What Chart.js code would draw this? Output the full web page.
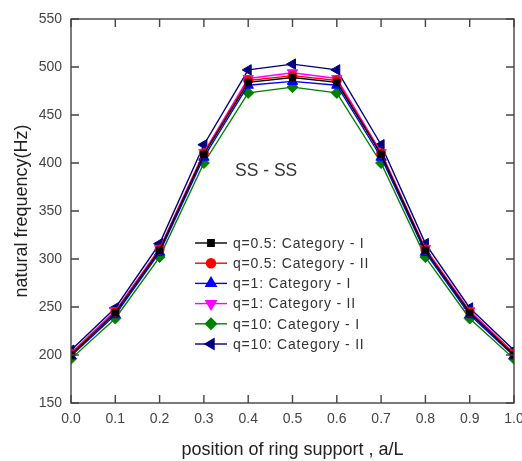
<!DOCTYPE html>
<html>
<head>
<meta charset="utf-8">
<script src="https://cdn.jsdelivr.net/npm/chart.js@4.4.1/dist/chart.umd.min.js"></script>
<style>
  html, body { margin: 0; padding: 0; background: #fff; }
  #wrap { width: 522px; height: 461px; }
</style>
</head>
<body>
<div id="wrap"><canvas id="freqChart" width="522" height="461"></canvas></div>
<script>
// position of ring support a/L
const positions = [0.0, 0.1, 0.2, 0.3, 0.4, 0.5, 0.6, 0.7, 0.8, 0.9, 1.0];

// natural frequency (Hz)
const q05CatI  = [200, 244, 309, 409, 484, 489, 484, 409, 309, 244, 200];
const q05CatII = [201, 245, 310, 410, 486, 491, 486, 410, 310, 245, 201];
const q1CatI   = [199, 242, 307, 406, 481, 485, 481, 406, 307, 242, 199];
const q1CatII  = [202, 246, 311, 411, 488, 494, 488, 411, 311, 246, 202];
const q10CatI  = [196, 238, 302, 400, 473, 479, 473, 400, 302, 238, 196];
const q10CatII = [205, 249, 316, 419, 497, 503, 497, 419, 316, 249, 205];

const seriesNames = [
    "q=0.5: Category - I",
    "q=0.5: Category - II",
    "q=1: Category - I",
    "q=1: Category - II",
    "q=10: Category - I",
    "q=10: Category - II"
];

const yTicks = [150, 200, 250, 300, 350, 400, 450, 500, 550];

const FONT = "'Liberation Sans', Arial, sans-serif";

function toPoints(values) {
    return values.map((v, i) => ({ x: positions[i], y: v }));
}

function makeSet(label, values, color, style, rotation, radius) {
    return {
        label: label,
        data: toPoints(values),
        borderColor: color,
        backgroundColor: color,
        borderWidth: 1.4,
        pointStyle: style,
        pointRotation: rotation,
        pointRadius: radius,
        pointBorderWidth: 1,
        pointBackgroundColor: color,
        pointBorderColor: color,
        fill: false,
        tension: 0
    };
}

const datasets = [
    makeSet(seriesNames[0], q05CatI, "#000000", "rect", 0, 4.5),
    makeSet(seriesNames[1], q05CatII, "#ff0000", "circle", 0, 4.5),
    makeSet(seriesNames[2], q1CatI, "#0000ff", "triangle", 0, 6),
    makeSet(seriesNames[3], q1CatII, "#ff00ff", "triangle", 180, 6),
    makeSet(seriesNames[4], q10CatI, "#008000", "rectRot", 0, 5.5),
    makeSet(seriesNames[5], q10CatII, "#000080", "triangle", -90, 6)
];

// frame, inward ticks, legend and the "SS - SS" label
const decorations = {
    id: "decorations",
    afterDraw(chart) {
        const ctx = chart.ctx;
        const area = chart.chartArea;
        const xs = chart.scales.x;
        const ys = chart.scales.y;
        ctx.save();

        ctx.strokeStyle = "#444";
        ctx.lineWidth = 1.4;
        ctx.beginPath();
        positions.forEach(p => {
            const px = xs.getPixelForValue(p);
            ctx.moveTo(px, area.bottom);
            ctx.lineTo(px, area.bottom - 8);
            ctx.moveTo(px, area.top);
            ctx.lineTo(px, area.top + 8);
        });
        yTicks.forEach(t => {
            const py = ys.getPixelForValue(t);
            ctx.moveTo(area.left, py);
            ctx.lineTo(area.left + 8, py);
            ctx.moveTo(area.right, py);
            ctx.lineTo(area.right - 8, py);
        });
        ctx.stroke();
        ctx.strokeRect(area.left, area.top, area.right - area.left, area.bottom - area.top);

        // legend
        const lx = 195, rowY = 243, rowStep = 20.2;
        ctx.font = "14px " + FONT;
        ctx.letterSpacing = "0.8px";
        ctx.textBaseline = "middle";
        ctx.textAlign = "left";
        chart.data.datasets.forEach((ds, i) => {
            const y = rowY + i * rowStep;
            ctx.strokeStyle = ds.borderColor;
            ctx.lineWidth = 1.4;
            ctx.beginPath();
            ctx.moveTo(lx, y);
            ctx.lineTo(lx + 32, y);
            ctx.stroke();
            ctx.fillStyle = ds.backgroundColor;
            ctx.strokeStyle = ds.borderColor;
            Chart.helpers.drawPoint(ctx, {
                pointStyle: ds.pointStyle,
                rotation: ds.pointRotation,
                radius: ds.pointRadius,
                borderWidth: 1
            }, lx + 16, y);
            ctx.fillStyle = "#333";
            ctx.fillText(ds.label, lx + 38, y + 1);
        });

        ctx.letterSpacing = "0px";
        ctx.font = "17.5px " + FONT;
        ctx.fillStyle = "#333";
        ctx.fillText("SS - SS", 235, 171);
        ctx.restore();
    }
};

new Chart(document.getElementById("freqChart").getContext("2d"), {
    type: "line",
    data: { datasets: datasets },
    options: {
        responsive: false,
        animation: false,
        layout: { padding: { left: 0, right: 8, top: 19, bottom: 0 } },
        plugins: {
            legend: { display: false },
            tooltip: { enabled: false }
        },
        scales: {
            x: {
                type: "linear",
                min: 0,
                max: 1,
                afterFit: s => {
                    s.height = 58;
                    s.paddingLeft = 0;
                    s.paddingRight = 0;
                },
                afterBuildTicks: s => { s.ticks = positions.map(v => ({ value: v })); },
                grid: { display: false, drawTicks: false },
                border: { display: false },
                ticks: {
                    padding: 8,
                    color: "#444",
                    font: { family: FONT, size: 14 },
                    callback: v => v.toFixed(1)
                },
                title: {
                    display: true,
                    text: "position of ring support , a/L",
                    color: "#222",
                    padding: { top: 4, bottom: 0 },
                    font: { family: FONT, size: 18 }
                }
            },
            y: {
                min: 150,
                max: 550,
                afterFit: s => {
                    s.width = 71;
                    s.paddingTop = 0;
                    s.paddingBottom = 0;
                },
                afterBuildTicks: s => { s.ticks = yTicks.map(v => ({ value: v })); },
                grid: { display: false, drawTicks: false },
                border: { display: false },
                ticks: {
                    padding: 9,
                    color: "#444",
                    font: { family: FONT, size: 14 }
                },
                title: {
                    display: true,
                    text: "natural frequency(Hz)",
                    color: "#222",
                    padding: { top: 11, bottom: 0 },
                    font: { family: FONT, size: 18 }
                }
            }
        }
    },
    plugins: [decorations]
});
</script>
</body>
</html>
